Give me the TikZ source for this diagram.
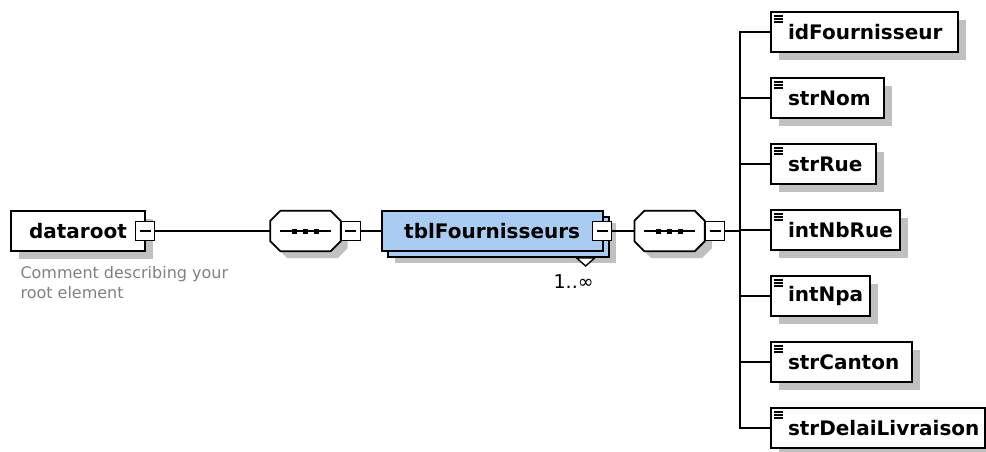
\documentclass[tikz,border=0pt]{standalone}
\usepackage{fontspec}
\setmainfont{DejaVu Sans}
\usepackage{xcolor}
\usetikzlibrary{shapes,positioning,shadows,calc}

\definecolor{tblblue}{RGB}{170,204,242}
\definecolor{shadowgray}{RGB}{192,192,192}
\definecolor{commentgray}{RGB}{128,128,128}

% octagon round a sequence node
\newcommand{\seqoutline}[1]{([xshift=10pt]#1.north west) -- ([xshift=-10pt]#1.north east) -- ([yshift=-10pt]#1.north east) -- ([yshift=10pt]#1.south east) -- ([xshift=-10pt]#1.south east) -- ([xshift=10pt]#1.south west) -- ([yshift=10pt]#1.south west) -- ([yshift=-10pt]#1.north west) -- cycle}

\begin{document}
\begin{tikzpicture}[x=1pt, y=-1pt]
    \tikzstyle{elem} = [draw, fill=white, rectangle, line width=2pt, minimum height=40pt, inner sep=0pt, font=\fontsize{20pt}{22pt}\selectfont\bfseries, drop shadow={shadow xshift=8pt, shadow yshift=-8pt, fill=shadowgray, opacity=1}]
    \tikzstyle{leaf} = [elem, anchor=west, align=left, path picture={
        \foreach \k in {4,7,10}
            \draw[line width=1.4pt] ([shift={(3pt,-\k pt)}]path picture bounding box.north west) -- ++(9pt,0pt);}]
    \tikzstyle{tblbox} = [draw, fill=tblblue, rectangle, line width=2pt, minimum height=40pt, minimum width=221pt, inner sep=0pt, font=\fontsize{20pt}{22pt}\selectfont\bfseries, drop shadow={shadow xshift=13pt, shadow yshift=-12pt, fill=shadowgray, opacity=1}, copy shadow={shadow xshift=6pt, shadow yshift=-6pt, fill=tblblue, draw=black, line width=2pt, opacity=1}]
    \tikzstyle{seqbox} = [rectangle, minimum height=40pt, minimum width=70pt, inner sep=0pt]
    \tikzstyle{minusbox} = [draw, fill=white, rectangle, line width=1.5pt, minimum size=19pt, inner sep=0pt, path picture={
        \draw[line width=1.4pt] ([xshift=4pt]path picture bounding box.west) -- ([xshift=-4pt]path picture bounding box.east);}]
    \tikzstyle{link} = [line width=2pt]

    \useasboundingbox (0,0) rectangle (986,452);

    % root element
    \node [elem, anchor=west, minimum width=134pt] (dataroot) at (10,231) {dataroot\hspace{10pt}};
    \node [minusbox] (rootmin) at ([xshift=-1pt]dataroot.east) {};
    \node [anchor=north west, align=left, text=commentgray, font=\fontsize{16pt}{20pt}\selectfont] (comment) at ([shift={(7pt,-11pt)}]dataroot.south west) {Comment describing your\\root element};

    % sequences and table
    \node [seqbox, right=115pt of rootmin] (seqa) {};
    \node [tblbox, right=40pt of seqa] (tbl) {tblFournisseurs\hspace{16pt}};
    \node [minusbox] (tblmin) at ([xshift=-1.5pt]tbl.east) {};
    \draw [fill=white, line width=1.4pt] ([shift={(-27pt,-6pt)}]tbl.south east) -- ++(18pt,0pt) -- ++(-9pt,-8pt) -- cycle;
    \node [font=\fontsize{19pt}{21pt}\selectfont] (card) at ([shift={(-30pt,-30pt)}]tbl.south east) {1..∞};
    \node [seqbox, right=22pt of tblmin] (seqb) {};

    \foreach \s in {seqa,seqb} {
        \fill [shadowgray, transform canvas={xshift=7pt, yshift=-7pt}] \seqoutline{\s};
        \draw [fill=white, line width=1.8pt] \seqoutline{\s};
        \draw [line width=2pt] ([xshift=10pt]\s.west) -- ([xshift=-10pt]\s.east);
        \foreach \d in {-11,0,11}
            \fill ([xshift=\d pt]\s.center) +(-2.5pt,-2.5pt) rectangle +(2.5pt,2.5pt);
    }
    \node [minusbox, anchor=west] (seqamin) at (seqa.east) {};
    \node [minusbox, anchor=west] (seqbmin) at (seqb.east) {};
    \coordinate (bus) at (740,231);

    % child elements
    \node [leaf, text width=187pt] (idf) at (770,32) {\hspace*{17pt}idFournisseur};
    \node [leaf, text width=113pt, below=24pt of idf.south west, anchor=north west] (nom) {\hspace*{17pt}strNom};
    \node [leaf, text width=105pt, below=24pt of nom.south west, anchor=north west] (rue) {\hspace*{17pt}strRue};
    \node [leaf, text width=129pt, below=24pt of rue.south west, anchor=north west] (nbrue) {\hspace*{17pt}intNbRue};
    \node [leaf, text width=99pt, below=24pt of nbrue.south west, anchor=north west] (npa) {\hspace*{17pt}intNpa};
    \node [leaf, text width=141pt, below=24pt of npa.south west, anchor=north west] (canton) {\hspace*{17pt}strCanton};
    \node [leaf, text width=214pt, below=24pt of canton.south west, anchor=north west] (delai) {\hspace*{17pt}strDelaiLivraison};

    \draw [link] (rootmin.east) -- (seqa.west);
    \draw [link] (seqamin.east) -- (tbl.west);
    \draw [link] (tblmin.east) -- (seqb.west);
    \draw [link] (seqbmin.east) -- (bus);
    \draw [link] (idf.west) -| (bus) |- (delai.west);
    \foreach \c in {nom,rue,nbrue,npa,canton}
        \draw [link] (bus |- \c.west) -- (\c.west);
\end{tikzpicture}
\end{document}
